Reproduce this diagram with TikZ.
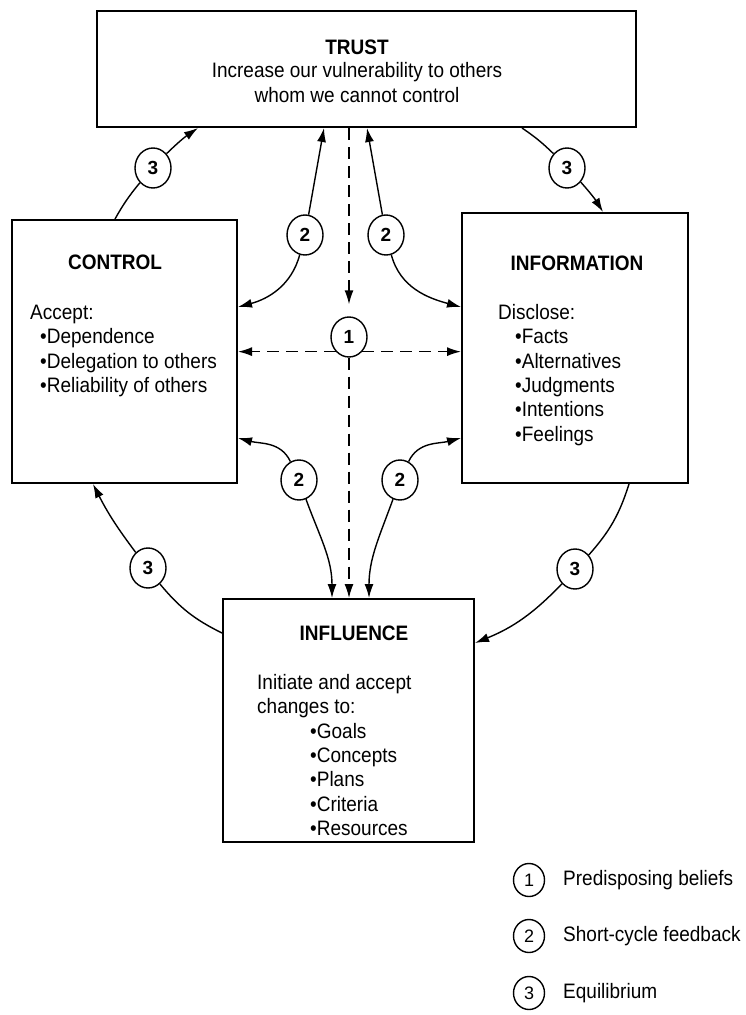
\documentclass[tikz,border=0pt]{standalone}
\usepackage{fontspec}
\setmainfont{Liberation Sans}
\usetikzlibrary{shapes.geometric,arrows.meta,calc}
\newcommand{\vsx}[1]{\scalebox{1}[1.1]{#1}}
\newcommand{\vsl}[1]{\scalebox{1}[1.1]{\begin{tabular}{@{}l@{}}#1\end{tabular}}}
\newcommand{\vsc}[1]{\scalebox{1}[1.1]{\begin{tabular}{@{}c@{}}#1\end{tabular}}}
\begin{document}
\begin{tikzpicture}[x=1pt,y=-1pt,
  box/.style={draw, line width=2pt, inner sep=0pt},
  num/.style={draw, ellipse, line width=1.4pt, minimum width=36pt, minimum height=40pt, inner sep=0pt, font=\fontsize{19}{24}\selectfont\bfseries},
  lnum/.style={num, minimum width=31pt, minimum height=33pt, font=\fontsize{18}{22}\selectfont},
  txt/.style={inner sep=0pt, font=\fontsize{19}{22.2}\selectfont},
  ttl/.style={inner sep=0pt, font=\fontsize{19}{22.2}\selectfont\bfseries},
  conn/.style={line width=1.4pt},
  arr/.style={conn, -{Latex[length=14pt,width=9pt]}},
  dsh/.style={arr, dash pattern=on 12pt off 7pt},
]
\useasboundingbox (0,0) rectangle (746,1015);

% boxes
\node[box, minimum width=539pt, minimum height=116pt] (trust) at (366.5,69) {};
\node[box, minimum width=225pt, minimum height=263pt] (control) at (124.5,351.5) {};
\node[box, minimum width=226pt, minimum height=270pt] (info) at (575,348) {};
\node[box, minimum width=251pt, minimum height=243pt] (infl) at (348.5,720.5) {};

% box texts
\node[ttl] (trustT) at (357,47) {\vsx{TRUST}};
\node[txt] (trustD) at (357,85) {\vsc{Increase our vulnerability to others\\whom we cannot control}};

\node[ttl] (controlT) at (115,262) {\vsx{CONTROL}};
\node[txt, anchor=north west] (controlD) at (30,302) {\vsl{Accept:\\\hspace*{10pt}•Dependence\\\hspace*{10pt}•Delegation to others\\\hspace*{10pt}•Reliability of others}};

\node[ttl] (infoT) at (577,263) {\vsx{INFORMATION}};
\node[txt, anchor=north west] (infoD) at (498,302) {\vsl{Disclose:\\\hspace*{17pt}•Facts\\\hspace*{17pt}•Alternatives\\\hspace*{17pt}•Judgments\\\hspace*{17pt}•Intentions\\\hspace*{17pt}•Feelings}};

\node[ttl] (inflT) at (354,633) {\vsx{INFLUENCE}};
\node[txt, anchor=north west] (inflD) at (257,672) {\vsl{Initiate and accept\\changes to:\\\hspace*{53pt}•Goals\\\hspace*{53pt}•Concepts\\\hspace*{53pt}•Plans\\\hspace*{53pt}•Criteria\\\hspace*{53pt}•Resources}};

% numbered circles
\node[num] (c1) at (349,337) {1};
\node[num] (c2tl) at (305,235) {2};
\node[num] (c2tr) at (386,235) {2};
\node[num] (c2bl) at (299,480) {2};
\node[num] (c2br) at (400,480) {2};
\node[num] (c3tl) at (153,168) {3};
\node[num] (c3tr) at (567,168) {3};
\node[num] (c3bl) at (148,568) {3};
\node[num] (c3br) at (575,569) {3};

% equilibrium (3)
\draw[conn] (c3tl) to[bend right=5] (control.north -| 115,0);
\draw[arr] (c3tl) to[bend left=5] (trust.south -| 198,0);
\draw[conn] (trust.south -| 522,0) to[bend left=5] (c3tr);
\draw[arr] (c3tr) to[bend left=5] (info.north -| 603,0);
\draw[arr] (c3bl) to[bend left=5] (control.south -| 93,0);
\draw[conn] (c3bl) to[bend right=12] (infl.west |- 0,633);
\draw[conn] (info.south -| 629,0) to[bend left=12] (c3br);
\draw[arr] (c3br) to[bend left=12] (infl.east |- 0,643);

% short-cycle feedback (2)
\draw[arr] (c2tl) -- (trust.south -| 324,0);
\draw[arr] (c2tl) to[out=255,in=15] (control.east |- 0,307);
\draw[arr] (c2tr) -- (trust.south -| 367,0);
\draw[arr] (c2tr) to[out=285,in=165] (info.west |- 0,307);
\draw[arr] (c2bl) to[out=115,in=-15] (control.east |- 0,438);
\draw[arr] (c2bl) to[out=-70,in=90] (infl.north -| 332,0);
\draw[arr] (c2br) to[out=65,in=195] (info.west |- 0,438);
\draw[arr] (c2br) to[out=250,in=90] (infl.north -| 369,0);

% predisposing beliefs (1)
\draw[dsh] (c1 |- trust.south) -- ([yshift=12pt]c1.north);
\draw[dsh] (c1.south west) -- (c1.south west -| control.east);
\draw[dsh] (c1.south east) -- (c1.south east -| info.west);
\draw[dsh] (c1.south) -- (c1.south |- infl.north);

% legend
\node[lnum] (l1) at (529,880) {1};
\node[lnum] (l2) at (529,936) {2};
\node[lnum] (l3) at (529,993) {3};
\node[txt, anchor=west] (l1t) at (563,880) {\vsx{Predisposing beliefs}};
\node[txt, anchor=west] (l2t) at (563,936) {\vsx{Short-cycle feedback}};
\node[txt, anchor=west] (l3t) at (563,993) {\vsx{Equilibrium}};
\end{tikzpicture}
\end{document}
